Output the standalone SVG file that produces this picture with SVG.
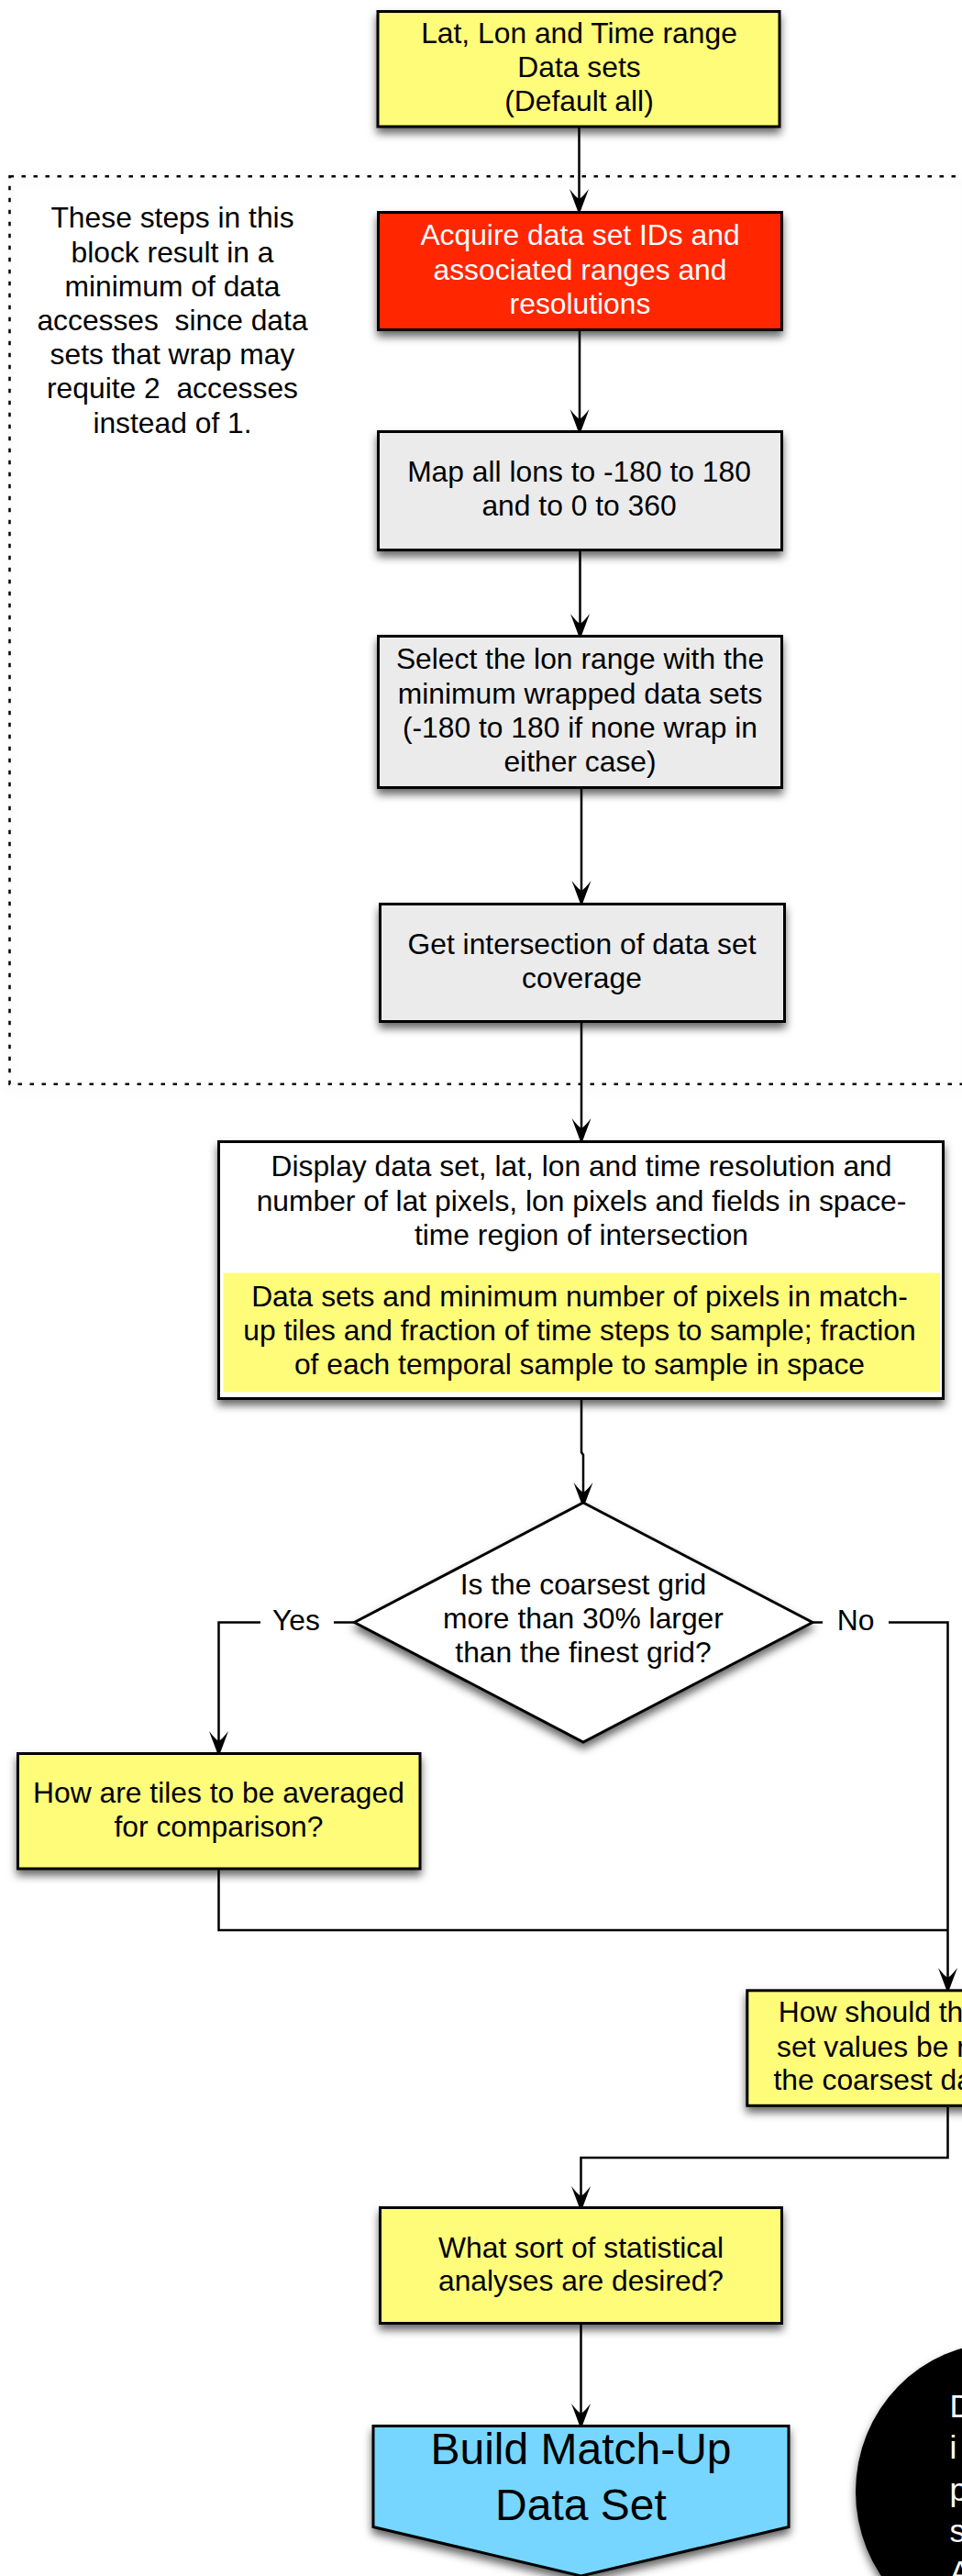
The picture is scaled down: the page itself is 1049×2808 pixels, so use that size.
<svg xmlns="http://www.w3.org/2000/svg" width="1049" height="2808" viewBox="0 0 1049 2808">
<defs>
<style>
text{font-family:"Liberation Sans",Arial,Helvetica,sans-serif;font-size:31.8px;fill:#000}
.c{text-anchor:middle}
.s{text-anchor:start}
.w{fill:#fff}
.big{font-size:48px}
.ell{font-size:35px}
.box{stroke:#000;stroke-width:3;filter:url(#sh)}
.yel{fill:#fffc79}
.red{fill:#ff2600}
.gry{fill:#ebebeb}
.wht{fill:#fff}
.blu{fill:#76d6ff}
.con{fill:none;stroke:#000;stroke-width:2.5}
.arr{marker-end:url(#ah)}
</style>
<filter id="sh" x="-15%" y="-15%" width="130%" height="150%">
<feDropShadow dx="0" dy="6" stdDeviation="5" flood-color="#000" flood-opacity="0.6"/>
</filter>
<filter id="shl" x="-5%" y="-5%" width="110%" height="110%">
<feDropShadow dx="0" dy="6" stdDeviation="6" flood-color="#000" flood-opacity="0.12"/>
</filter>
<marker id="ah" markerUnits="userSpaceOnUse" orient="auto" markerWidth="40" markerHeight="30" viewBox="-36 -15 40 30" refX="-8" refY="0" overflow="visible">
<path d="M0,0 L-28,-10.5 Q-19.5,-4 -17,0 Q-19.5,4 -28,10.5 Z" fill="#000"/>
</marker>
</defs>
<rect width="1049" height="2808" fill="#fff"/>

<g id="block">
<rect x="10.5" y="192.3" width="1046" height="989.5" fill="none" stroke="#000" stroke-width="2.5" stroke-dasharray="4.5 8.5" filter="url(#shl)"/>
<text class="c" x="188" y="248.3">These steps in this</text>
<text class="c" x="188" y="285.5">block result in a</text>
<text class="c" x="188" y="322.7">minimum of data</text>
<text class="c" x="188" y="359.9" xml:space="preserve">accesses  since data</text>
<text class="c" x="188" y="397.1">sets that wrap may</text>
<text class="c" x="188" y="434.3" xml:space="preserve">requite 2  accesses</text>
<text class="c" x="188" y="471.5">instead of 1.</text>
</g>

<g id="connectors">
<path class="con arr" d="M631.5,139 V226"/>
<path class="con arr" d="M632,361 V466"/>
<path class="con arr" d="M632.5,601 V689"/>
<path class="con arr" d="M634,860 V980"/>
<path class="con arr" d="M634,1115 V1239"/>
<path class="con arr" d="M634,1526 V1583 L636,1586 V1636"/>
<path class="con arr" d="M386.5,1768.5 H238.5 V1907"/>
<path class="con arr" d="M886,1768.5 H1033.5 V2165"/>
<path class="con" d="M238.5,2038 V2104 H1033.5"/>
<path class="con arr" d="M1033.5,2297 V2352 H633.5 V2403"/>
<path class="con arr" d="M633.5,2534 V2640"/>
</g>

<g id="n-input">
<rect class="box yel" x="412" y="12.5" width="438" height="125.5"/>
<text class="c" x="631.5" y="46.5">Lat, Lon and Time range</text>
<text class="c" x="631.5" y="83.5">Data sets</text>
<text class="c" x="631.5" y="120.5">(Default all)</text>
</g>

<g id="n-acquire">
<rect class="box red" x="412.5" y="231.5" width="440" height="128"/>
<text class="c w" x="632.5" y="267">Acquire data set IDs and</text>
<text class="c w" x="632.5" y="304.5">associated ranges and</text>
<text class="c w" x="632.5" y="342">resolutions</text>
</g>

<g id="n-map">
<rect class="box gry" x="412.5" y="470.5" width="440" height="129"/>
<text class="c" x="631.5" y="525">Map all lons to -180 to 180</text>
<text class="c" x="631.5" y="562">and to 0 to 360</text>
</g>

<g id="n-select">
<rect class="box gry" x="412.5" y="693.5" width="440" height="165"/>
<text class="c" x="632.5" y="729">Select the lon range with the</text>
<text class="c" x="632.5" y="766.5">minimum wrapped data sets</text>
<text class="c" x="632.5" y="804">(-180 to 180 if none wrap in</text>
<text class="c" x="632.5" y="841">either case)</text>
</g>

<g id="n-intersect">
<rect class="box gry" x="414.5" y="985.5" width="441" height="128"/>
<text class="c" x="634.5" y="1039.5">Get intersection of data set</text>
<text class="c" x="634.5" y="1076.5">coverage</text>
</g>

<g id="n-display">
<rect class="box wht" x="238.5" y="1244.5" width="790" height="280"/>
<rect class="yel" x="243.5" y="1387.5" width="781.5" height="130"/>
<text class="c" x="634" y="1282.3">Display data set, lat, lon and time resolution and</text>
<text class="c" x="634" y="1319.5">number of lat pixels, lon pixels and fields in space-</text>
<text class="c" x="634" y="1356.7">time region of intersection</text>
<text class="c" x="632" y="1424.3">Data sets and minimum number of pixels in match-</text>
<text class="c" x="632" y="1461.3">up tiles and fraction of time steps to sample; fraction</text>
<text class="c" x="632" y="1498.3">of each temporal sample to sample in space</text>
</g>

<g id="n-decision">
<polygon class="box wht" points="636,1638 886,1768.5 636,1899 386.5,1768.5" stroke-width="2.5"/>
<text class="c" x="636" y="1737.5">Is the coarsest grid</text>
<text class="c" x="636" y="1774.5">more than 30% larger</text>
<text class="c" x="636" y="1811.5">than the finest grid?</text>
</g>

<g id="l-yes">
<rect x="284" y="1745" width="80" height="44" fill="#fff"/>
<text class="c" x="323" y="1777">Yes</text>
</g>
<g id="l-no">
<rect x="897" y="1745" width="72" height="44" fill="#fff"/>
<text class="c" x="933" y="1777">No</text>
</g>

<g id="n-average">
<rect class="box yel" x="19.5" y="1911.5" width="438.5" height="125.5"/>
<text class="c" x="238.5" y="1965">How are tiles to be averaged</text>
<text class="c" x="238.5" y="2001.7">for comparison?</text>
</g>

<g id="n-regrid">
<rect class="box yel" x="814.8" y="2169.8" width="437" height="125.5"/>
<text class="s" x="848.8" y="2204">How should th</text>
<text class="s" x="847" y="2241.7">set values be r</text>
<text class="s" x="843.5" y="2278.3">the coarsest da</text>
</g>

<g id="n-stats">
<rect class="box yel" x="414.5" y="2406.5" width="438" height="126"/>
<text class="c" x="633.5" y="2460.7">What sort of statistical</text>
<text class="c" x="633.5" y="2497.3">analyses are desired?</text>
</g>

<g id="n-build">
<path class="box blu" d="M407,2644.5 H860 V2754.5 L633.5,2808 L407,2754.5 Z"/>
<text class="c big" x="633.5" y="2686">Build Match-Up</text>
<text class="c big" x="633.5" y="2746.5">Data Set</text>
</g>

<g id="n-ellipse">
<ellipse cx="1091" cy="2716" rx="158" ry="162" fill="#000" filter="url(#sh)"/>
<text class="s w ell" x="1035.5" y="2635">D</text>
<text class="s w ell" x="1035.5" y="2680">i</text>
<text class="s w ell" x="1035.5" y="2726">p</text>
<text class="s w ell" x="1035.5" y="2771">s</text>
<text class="s w ell" x="1035.5" y="2816">A</text>
</g>
</svg>
